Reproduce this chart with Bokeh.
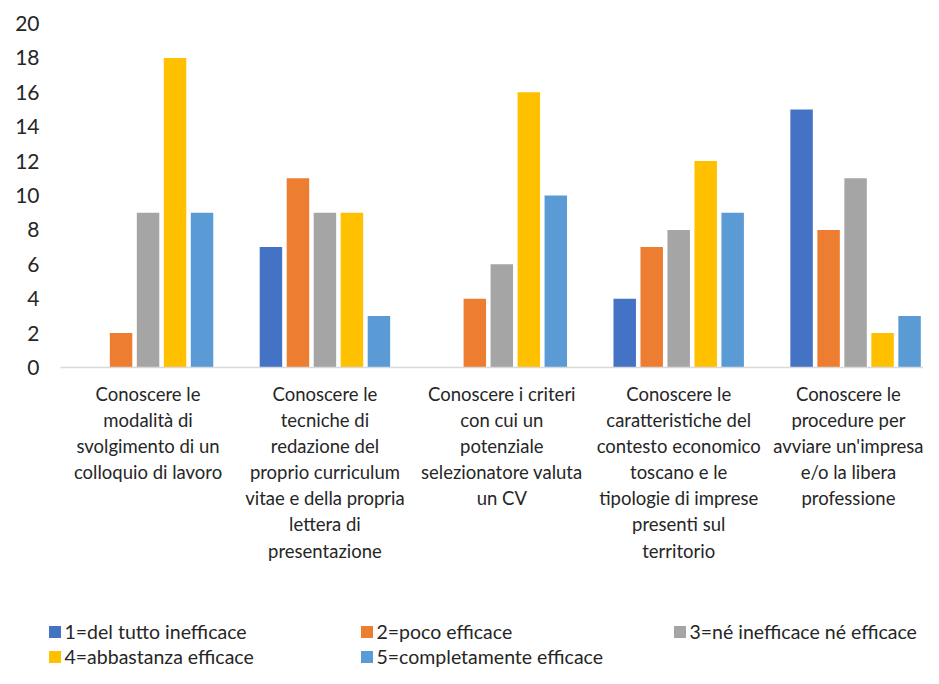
from bokeh.plotting import figure
from bokeh.models import ColumnDataSource, Range1d, FixedTicker, Legend, LegendItem
from bokeh.layouts import column
from bokeh.transform import dodge
from bokeh.embed import file_html
from bokeh.resources import INLINE

categories = [
    "Conoscere le\nmodalità di\nsvolgimento di un\ncolloquio di lavoro",
    "Conoscere le\ntecniche di\nredazione del\nproprio curriculum\nvitae e della propria\nlettera di\npresentazione",
    "Conoscere i criteri\ncon cui un\npotenziale\nselezionatore valuta\nun CV",
    "Conoscere le\ncaratteristiche del\ncontesto economico\ntoscano e le\ntipologie di imprese\npresenti sul\nterritorio",
    "Conoscere le\nprocedure per\navviare un'impresa\ne/o la libera\nprofessione",
]
series_names = [
    "1=del tutto inefficace",
    "2=poco efficace",
    "3=né inefficace né efficace",
    "4=abbastanza efficace",
    "5=completamente efficace",
]
s1 = [0, 7, 0, 4, 15]
s2 = [2, 11, 4, 7, 8]
s3 = [9, 9, 6, 8, 11]
s4 = [18, 9, 16, 12, 2]
s5 = [9, 3, 10, 9, 3]
y_ticks = [0, 2, 4, 6, 8, 10, 12, 14, 16, 18, 20]

colors = ["#4472C4", "#ED7D31", "#A5A5A5", "#FFC000", "#5B9BD5"]
cols = ["s1", "s2", "s3", "s4", "s5"]
xpos = [i + 0.5 for i in range(len(categories))]

src = ColumnDataSource(dict(x=xpos, s1=s1, s2=s2, s3=s3, s4=s4, s5=s5))

font = "Lato"
txt = "#262626"

P_H = 600
p = figure(width=923, height=P_H, output_backend="svg", toolbar_location=None,
           x_range=Range1d(0.005, 4.884), y_range=Range1d(0, 20),
           min_border_left=60, min_border_right=0, min_border_top=23,
           min_border_bottom=P_H - 367)
p.frame_align = False
p.outline_line_color = None
p.xgrid.grid_line_color = None
p.ygrid.grid_line_color = None

offsets = [-0.3052, -0.1526, 0, 0.1526, 0.3052]
for k, (col, c) in enumerate(zip(cols, colors)):
    p.vbar(x=dodge("x", offsets[k], range=p.x_range), top=col, width=0.127,
           source=src, fill_color=c, line_color=None)

p.xaxis.ticker = FixedTicker(ticks=xpos)
p.xaxis.major_label_overrides = {x: c for x, c in zip(xpos, categories)}
p.xaxis.major_tick_line_color = None
p.xaxis.minor_tick_line_color = None
p.xaxis.axis_line_color = "#D9D9D9"
p.xaxis.axis_line_width = 1.5
p.xaxis.major_label_text_font = font
p.xaxis.major_label_text_font_size = "18.5px"
p.xaxis.major_label_text_color = txt
p.xaxis.major_label_text_line_height = 1.19
p.xaxis.major_label_standoff = 9

p.yaxis.ticker = FixedTicker(ticks=y_ticks)
p.yaxis.major_tick_line_color = None
p.yaxis.minor_tick_line_color = None
p.yaxis.axis_line_color = None
p.yaxis.major_label_text_font = font
p.yaxis.major_label_text_font_size = "21px"
p.yaxis.major_label_text_color = txt
p.yaxis.major_label_standoff = 15

# legend strip (its swatches come from zero-height stand-in bars)
L_H = 668 - P_H
lg = figure(width=923, height=L_H, output_backend="svg", toolbar_location=None,
            x_axis_type=None, y_axis_type=None, x_range=Range1d(0, 1), y_range=Range1d(0, 1),
            min_border=0)
lg.frame_align = False
lg.outline_line_color = None
lg.xgrid.grid_line_color = None
lg.ygrid.grid_line_color = None
dummy = ColumnDataSource(dict(x=[0.5], top=[0]))
lrs = [lg.vbar(x="x", top="top", width=0.0, source=dummy, fill_color=c, line_color=None)
       for c in colors]

ROW = 24
SP = 1
groups = [[0, 3], [1, 4], [2]]
xs = [46.5, 358.5, 671.5]
for gi, idxs in enumerate(groups):
    items = [LegendItem(label=series_names[i], renderers=[lrs[i]]) for i in idxs]
    n = len(idxs)
    y0 = (2 - n) * (ROW + SP)
    leg = Legend(items=items, location=(xs[gi], y0),
                 orientation="vertical", margin=0, padding=0, spacing=SP,
                 glyph_width=15, glyph_height=15, label_standoff=3,
                 label_text_font=font, label_text_font_size="19.5px",
                 label_text_color=txt, label_height=ROW,
                 border_line_color=None, background_fill_alpha=0)
    lg.add_layout(leg, "center")

layout = column(p, lg, spacing=0)
open("out.html", "w").write(file_html(layout, INLINE))
